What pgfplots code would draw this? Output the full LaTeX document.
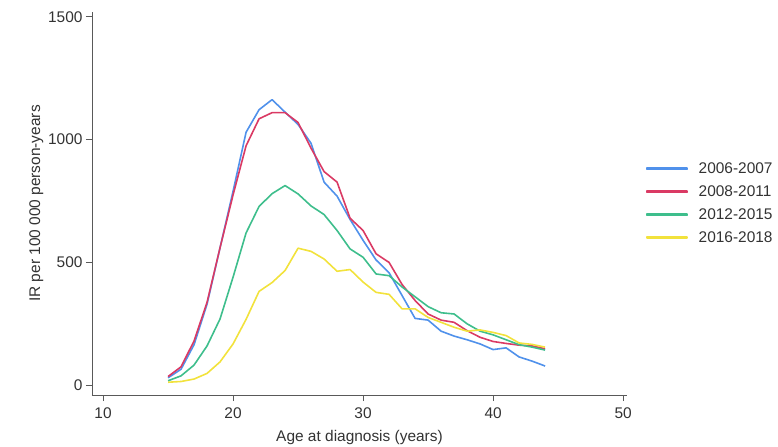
\documentclass[border=0pt]{standalone}
\usepackage{fontspec}
\setmainfont{Liberation Sans}
\usepackage{pgfplots}
\pgfplotsset{compat=1.18}
\definecolor{cblue}{RGB}{80,145,235}
\definecolor{cred}{RGB}{218,58,100}
\definecolor{cgreen}{RGB}{62,190,140}
\definecolor{cyellow}{RGB}{242,226,60}
\newcommand{\ff}{\fontsize{15.5}{18}\selectfont}
\begin{document}
\begin{tikzpicture}
\path[use as bounding box] (0,0) rectangle (778bp,447bp);
\begin{axis}[
  at={(92bp,52bp)}, anchor=south west,
  scale only axis, width=535bp, height=383bp,
  xmin=9.15, xmax=50.3, ymin=-40, ymax=1520,
  axis x line*=bottom, axis y line*=left,
  axis line style={black!65, line width=0.9bp, -},
  xtick={10,20,30,40,50}, ytick={0,500,1000,1500},
  tick align=outside, major tick length=6bp,
  tick style={black!65, line width=0.9bp},
  /pgf/number format/assume math mode=true,
  /pgf/number format/1000 sep={},
  tick label style={font=\ff, text=black!80},
  xticklabel style={yshift=-3bp},
  label style={font=\ff, text=black!80},
  xlabel={Age at diagnosis (years)},
  ylabel={IR per 100 000 person-years},
  xlabel style={yshift=-5bp},
  ylabel style={yshift=-2bp},
  legend image code/.code={\path[draw=none] (0bp,-3bp) rectangle (50bp,3bp);
    \fill[#1] (0bp,-0.3bp) rectangle (40bp,1.2bp);},
  legend cell align=left,
  legend style={at={(axis description cs:1.035,0.611)}, anchor=north west,
    draw=none, fill=none, font=\ff, text=black!80, row sep=6.6bp,
    inner sep=0pt},
  every axis plot/.append style={line width=1.6bp, line join=round},
]
\addplot[cblue] coordinates {
(15,30) (16,65) (17,165) (18,330) (19,560) (20,790) (21,1030) (22,1122)
(23,1163) (24,1112) (25,1062) (26,985) (27,827) (28,770) (29,675) (30,590)
(31,510) (32,458) (33,365) (34,272) (35,265) (36,220) (37,200) (38,185)
(39,168) (40,145) (41,152) (42,115) (43,98) (44,78)};
\addlegendentry{2006-2007}
\addplot[cred] coordinates {
(15,35) (16,75) (17,180) (18,338) (19,560) (20,775) (21,975) (22,1085)
(23,1110) (24,1110) (25,1070) (26,965) (27,870) (28,827) (29,680) (30,630)
(31,535) (32,500) (33,410) (34,345) (35,290) (36,265) (37,256) (38,222)
(39,195) (40,178) (41,170) (42,163) (43,160) (44,148)};
\addlegendentry{2008-2011}
\addplot[cgreen] coordinates {
(15,18) (16,38) (17,82) (18,160) (19,270) (20,440) (21,620) (22,728)
(23,780) (24,813) (25,779) (26,730) (27,695) (28,630) (29,555) (30,521)
(31,453) (32,446) (33,400) (34,360) (35,320) (36,295) (37,290) (38,250)
(39,220) (40,205) (41,185) (42,165) (43,155) (44,143)};
\addlegendentry{2012-2015}
\addplot[cyellow] coordinates {
(15,12) (16,15) (17,25) (18,48) (19,95) (20,168) (21,268) (22,382)
(23,418) (24,467) (25,558) (26,545) (27,514) (28,464) (29,471) (30,420)
(31,378) (32,370) (33,311) (34,311) (35,276) (36,256) (37,236) (38,220)
(39,225) (40,215) (41,202) (42,172) (43,166) (44,155)};
\addlegendentry{2016-2018}
\end{axis}
\end{tikzpicture}
\end{document}
